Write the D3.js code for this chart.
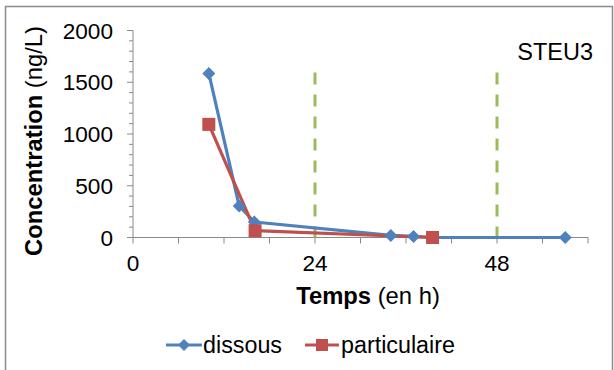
<!DOCTYPE html>
<html><head><meta charset="utf-8">
<script src="https://cdn.jsdelivr.net/npm/d3@7"></script>
<style>body{margin:0;background:#fff}svg{display:block}text{font-family:"Liberation Sans",Arial,sans-serif}</style>
</head><body>
<svg id="c" width="614" height="370"></svg>
<script>
const dissousX = [10, 14, 16, 34, 37, 39.5, 57];
const dissousY = [1585, 305, 150, 20, 10, 0, 0];
const partX = [10, 16.1, 39.5];
const partY = [1093, 66, 0];
const xTickLabels = [0, 24, 48];
const yTickLabels = [0, 500, 1000, 1500, 2000];
const refLines = [24, 48];
const seriesNames = ["dissous", "particulaire"];

const svg = d3.select("#c");
svg.append("rect").attr("x",5.5).attr("y",6.5).attr("width",607).attr("height",370)
  .attr("fill","#fff").attr("stroke","#8c8c8c").attr("stroke-width",1.5);

const x = d3.scaleLinear().domain([0,60]).range([133,588]);
const y = d3.scaleLinear().domain([0,2000]).range([237.5,30.5]);

// y axis
const ya = svg.append("g");
ya.append("line").attr("x1",x(0)).attr("x2",x(0)).attr("y1",y(0)).attr("y2",y(2000)).attr("stroke","#898989").attr("stroke-width",1);
d3.range(0,2001,100).forEach(v=>{
  const major = v%500===0;
  ya.append("line").attr("x1",x(0)-(major?6:4)).attr("x2",x(0)).attr("y1",y(v)).attr("y2",y(v)).attr("stroke","#898989");
});
yTickLabels.forEach(v=>{
  ya.append("text").attr("x",113).attr("y",y(v)+8).attr("text-anchor","end").attr("font-size",22.6).text(v);
});
// x axis
const xa = svg.append("g");
xa.append("line").attr("x1",x(0)).attr("x2",x(60)).attr("y1",y(0)).attr("y2",y(0)).attr("stroke","#898989");
d3.range(0,61,6).forEach(v=>{
  xa.append("line").attr("x1",x(v)).attr("x2",x(v)).attr("y1",y(0)).attr("y2",y(0)+6).attr("stroke","#898989");
});
xTickLabels.forEach(v=>{
  xa.append("text").attr("x",x(v)).attr("y",271).attr("text-anchor","middle").attr("font-size",22.6).text(v);
});

// reference dashed lines
refLines.forEach(v=>{
  svg.append("line").attr("x1",x(v)).attr("x2",x(v)).attr("y1",72.5).attr("y2",y(0))
    .attr("stroke","#9BBB59").attr("stroke-width",3).attr("stroke-dasharray","12,10");
});

const line = d3.line().x(d=>x(d[0])).y(d=>y(d[1]));
const blue="#4F81BD", red="#C0504D";
const dData = dissousX.map((v,i)=>[v,dissousY[i]]);
const pData = partX.map((v,i)=>[v,partY[i]]);

svg.append("path").datum(dData).attr("d",line).attr("fill","none").attr("stroke",blue).attr("stroke-width",3.2).attr("stroke-linejoin","round");
svg.append("path").datum(pData).attr("d",line).attr("fill","none").attr("stroke",red).attr("stroke-width",3.2).attr("stroke-linejoin","round");

function diamondPath(s){ return `M0,${-s}L${s},0L0,${s}L${-s},0Z`; }
svg.selectAll(".dm").data(dData).enter().append("path")
  .attr("transform",d=>`translate(${x(d[0])},${y(d[1])})`).attr("d",diamondPath(6.5)).attr("fill",blue);
svg.selectAll(".sq").data(pData).enter().append("rect")
  .attr("x",d=>x(d[0])-6.5).attr("y",d=>y(d[1])-6.5).attr("width",13).attr("height",13).attr("fill",red);

// titles
svg.append("text").attr("x",593).attr("y",59.5).attr("text-anchor","end").attr("font-size",23.5).text("STEU3");
const yt = svg.append("text").attr("transform","translate(42,141) rotate(-90)").attr("text-anchor","middle").attr("font-size",23.8);
yt.append("tspan").attr("font-weight","bold").text("Concentration");
yt.append("tspan").text(" (ng/L)");
const xt = svg.append("text").attr("x",368).attr("y",304).attr("text-anchor","middle").attr("font-size",23.8);
xt.append("tspan").attr("font-weight","bold").text("Temps");
xt.append("tspan").text(" (en h)");

// legend
const lg = svg.append("g");
lg.append("line").attr("x1",166).attr("x2",202).attr("y1",345).attr("y2",345).attr("stroke",blue).attr("stroke-width",3);
lg.append("path").attr("transform","translate(184,345)").attr("d",diamondPath(6)).attr("fill",blue);
lg.append("text").attr("x",203).attr("y",353).attr("font-size",23.3).text(seriesNames[0]);
lg.append("line").attr("x1",305).attr("x2",339).attr("y1",345).attr("y2",345).attr("stroke",red).attr("stroke-width",3);
lg.append("rect").attr("x",316).attr("y",339).attr("width",12).attr("height",12).attr("fill",red);
lg.append("text").attr("x",341).attr("y",353).attr("font-size",23.3).text(seriesNames[1]);
</script>
</body></html>
